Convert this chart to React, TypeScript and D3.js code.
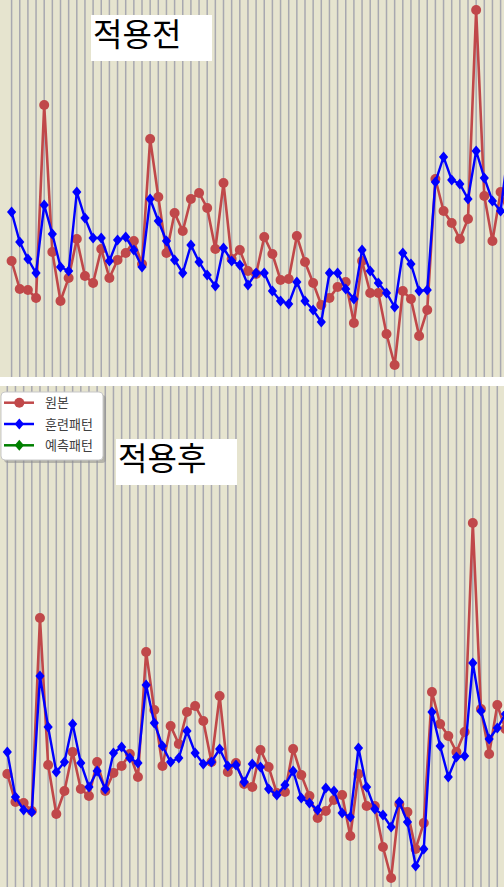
import * as d3 from "d3";

// 원본 series (shared by both panels), value = height above panel baseline
const original = [
  115, 87, 86, 78, 271, 124, 75, 98, 137, 100, 93, 127, 98, 116, 123, 135, 112, 237, 179, 123,
  163, 145, 177, 183, 168, 127, 193, 117, 126, 105, 102, 139, 122, 96, 97, 140, 114, 93, 71, 78,
  89, 94, 53, 115, 83, 83, 42, 11, 85, 77, 40, 66, 197, 165, 153, 137, 157, 366, 180, 135,
  184, 160,
];

// 훈련패턴 before (적용전)
const trainBefore = [
  164, 134, 117, 103, 171, 142, 109, 105, 184, 158, 138, 138, 115, 136, 139, 126, 109, 177, 155, 135,
  116, 103, 131, 114, 101, 90, 128, 115, 111, 91, 103, 103, 85, 75, 72, 94, 75, 66, 54, 103,
  103, 87, 77, 126, 105, 93, 83, 69, 123, 112, 85, 86, 194, 219, 196, 192, 177, 225, 198, 175,
  165, 230,
];

// 훈련패턴 after (적용후)
const trainAfter = [
  137, 92, 79, 77, 213, 162, 117, 127, 165, 126, 102, 118, 100, 136, 142, 131, 126, 204, 166, 143,
  127, 131, 158, 136, 125, 127, 140, 123, 124, 107, 125, 122, 100, 94, 104, 118, 91, 86, 79, 101,
  98, 76, 72, 141, 102, 80, 74, 62, 87, 67, 23, 40, 177, 143, 112, 132, 133, 226, 178, 150,
  161, 175,
];

const legendItems = [
  { label: "원본", color: "#c0484a", marker: "circle" },
  { label: "훈련패턴", color: "#0000ff", marker: "diamond" },
  { label: "예측패턴", color: "#008000", marker: "diamond" },
];

const W = 504;
const H = 887;
const BG = "#e6e4cf";
const RED = "#c0484a";
const BLUE = "#0000ff";
const FONT = "'Noto Sans CJK KR', 'Noto Sans', sans-serif";

const diamond = "M0,-5.5L4.6,0L0,5.5L-4.6,0Z";

type PanelProps = {
  top: number;
  bottom: number;
  base: number;
  x0: number;
  x60: number;
  train: number[];
  title: string;
  titleBox: [number, number, number, number];
  legend?: boolean;
};

const Panel = ({ top, bottom, base, x0, x60, train, title, titleBox, legend }: PanelProps) => {
  const x = d3.scaleLinear().domain([0, 60]).range([x0, x60]);
  const y = d3.scaleLinear().domain([0, 400]).range([base, base - 400]);
  const line = d3
    .line<number>()
    .x((_, i) => x(i))
    .y((d) => y(d));
  const idx = d3.range(original.length);
  const clipId = `clip${top}`;

  return (
    <g>
      <defs>
        <clipPath id={clipId}>
          <rect x={0} y={top} width={W} height={bottom - top} />
        </clipPath>
      </defs>
      <rect x={0} y={top} width={W} height={bottom - top} fill={BG} />
      <g clipPath={`url(#${clipId})`}>
        {idx.map((i) => (
          <line key={i} x1={x(i)} x2={x(i)} y1={top} y2={bottom} stroke="#a8a8b0" strokeWidth={1.5} />
        ))}
        <path d={line(original) || ""} fill="none" stroke={RED} strokeWidth={2.6} />
        {original.map((d, i) => (
          <circle key={i} cx={x(i)} cy={y(d)} r={5} fill={RED} />
        ))}
        <path d={line(train) || ""} fill="none" stroke={BLUE} strokeWidth={2.4} />
        {train.map((d, i) => (
          <path key={i} d={diamond} transform={`translate(${x(i)},${y(d)})`} fill={BLUE} />
        ))}
      </g>
      <rect
        x={titleBox[0]}
        y={titleBox[1]}
        width={titleBox[2]}
        height={titleBox[3]}
        fill="#fff"
      />
      <text
        x={titleBox[0] + 2}
        y={titleBox[1] + 31}
        fontFamily={FONT}
        fontSize={32}
        fill="#000"
      >
        {title}
      </text>
      {legend && (
        <g transform={`translate(1,${top + 6})`}>
          <rect x={3} y={3} width={102} height={68} rx={4} fill="#8c8c8c" opacity={0.55} />
          <rect x={0} y={0} width={102} height={68} rx={4} fill="#fff" stroke="#c8c8c8" />
          {legendItems.map((item, i) => {
            const ly = 10.7 + i * 21.3;
            return (
              <g key={item.label} transform={`translate(0,${ly})`}>
                <line x1={3} x2={33} y1={0} y2={0} stroke={item.color} strokeWidth={2.5} />
                {item.marker === "circle" ? (
                  <circle cx={18.3} cy={0} r={5} fill={item.color} />
                ) : (
                  <path d={diamond} transform="translate(18.3,0)" fill={item.color} />
                )}
                <text
                  x={44}
                  y={0}
                  dy="0.35em"
                  fontFamily={FONT}
                  fontSize={13}
                  fill="#404040"
                >
                  {item.label}
                </text>
              </g>
            );
          })}
        </g>
      )}
    </g>
  );
};

export default function App() {
  return (
    <svg
      width={W}
      height={H}
      style={{ position: "fixed", left: 0, top: 0, background: "#fff" }}
    >
      <rect x={0} y={0} width={W} height={H} fill="#fff" />
      <Panel
        top={0}
        bottom={377}
        base={376}
        x0={11.6}
        x60={500.6}
        train={trainBefore}
        title="적용전"
        titleBox={[91, 15, 121, 46]}
      />
      <Panel
        top={386}
        bottom={887}
        base={889}
        x0={7.3}
        x60={497.3}
        train={trainAfter}
        title="적용후"
        titleBox={[116, 439, 121, 46]}
        legend
      />
    </svg>
  );
}
